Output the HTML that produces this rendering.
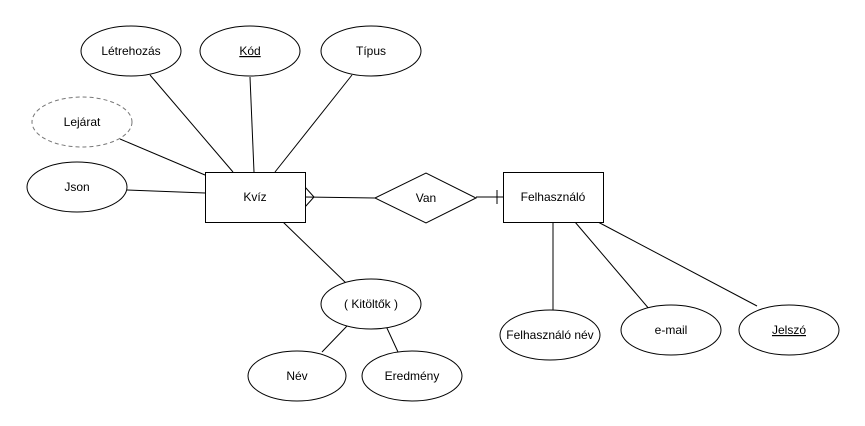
<!DOCTYPE html>
<html><head><meta charset="utf-8"><style>body{margin:0;background:#fff}svg{display:block}text{font-family:"Liberation Sans",sans-serif;font-size:12px;fill:#000;text-anchor:middle}</style></head><body>
<svg width="865" height="426" viewBox="0 0 865 426">
<g stroke="#000" stroke-width="1" fill="none">
<line x1="150" y1="75" x2="233" y2="172"/>
<line x1="250" y1="77" x2="254" y2="172"/>
<line x1="352" y1="75" x2="275" y2="172"/>
<line x1="120" y1="139" x2="205" y2="175"/>
<line x1="127" y1="190" x2="205" y2="193"/>
<line x1="305" y1="197" x2="375" y2="198"/>
<polyline points="305,187 314,197 305,207"/>
<line x1="476" y1="197" x2="503" y2="197"/>
<line x1="497" y1="190" x2="497" y2="204"/>
<line x1="283" y1="222" x2="347" y2="284"/>
<line x1="347" y1="326" x2="322" y2="352"/>
<line x1="386" y1="326" x2="398" y2="352"/>
<line x1="553" y1="222" x2="553" y2="310"/>
<line x1="575" y1="222" x2="650" y2="310"/>
<line x1="598" y1="222" x2="757" y2="306"/>
</g>
<g stroke="#000" stroke-width="1" fill="#fff">
<ellipse cx="131" cy="51" rx="50" ry="25"/>
<ellipse cx="250" cy="51" rx="50" ry="25"/>
<ellipse cx="371" cy="51" rx="50" ry="25"/>
<ellipse cx="82" cy="122" rx="50" ry="25" stroke="#777" stroke-dasharray="4 3"/>
<ellipse cx="77" cy="187" rx="50" ry="25"/>
<rect x="205.5" y="172.5" width="100" height="50"/>
<polygon points="375,198 426,173 476,198 426,223"/>
<rect x="503.5" y="172.5" width="100" height="50"/>
<ellipse cx="371" cy="304" rx="50" ry="25"/>
<ellipse cx="297" cy="376" rx="49" ry="25"/>
<ellipse cx="412" cy="376" rx="50" ry="25"/>
<ellipse cx="550" cy="335" rx="50" ry="25"/>
<ellipse cx="671" cy="330" rx="50" ry="25"/>
<ellipse cx="789" cy="330" rx="50" ry="25"/>
</g>
<text x="131" y="55">Létrehozás</text>
<text x="250" y="55" text-decoration="underline">Kód</text>
<text x="371" y="55">Típus</text>
<text x="82" y="126">Lejárat</text>
<text x="77" y="191">Json</text>
<text x="255" y="201">Kvíz</text>
<text x="426" y="202">Van</text>
<text x="553" y="201">Felhasználó</text>
<text x="371" y="308">( Kitöltők )</text>
<text x="297" y="380">Név</text>
<text x="412" y="380">Eredmény</text>
<text x="550" y="339">Felhasználó név</text>
<text x="671" y="334">e-mail</text>
<text x="789" y="334" text-decoration="underline">Jelszó</text>
</svg>
</body></html>
